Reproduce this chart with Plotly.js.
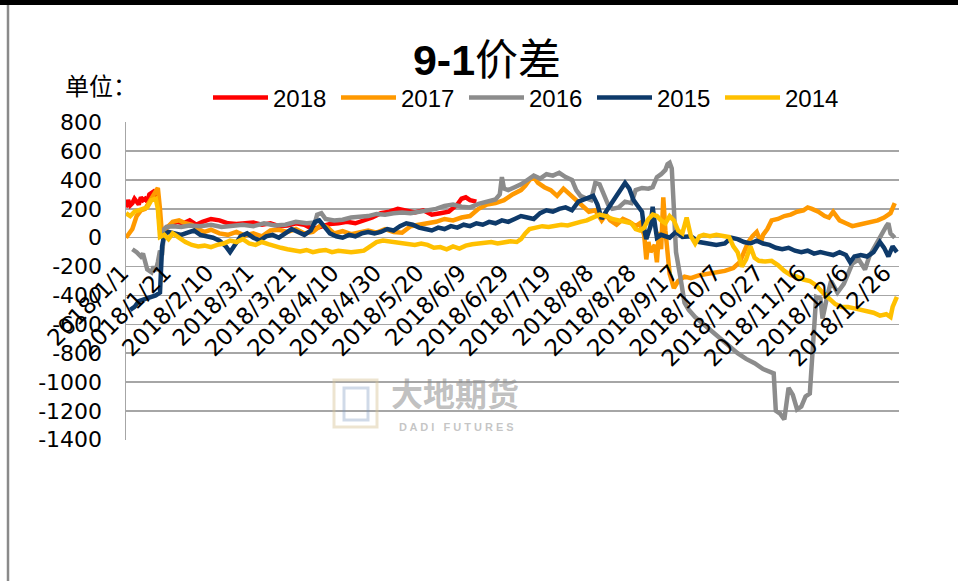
<!DOCTYPE html>
<html>
<head>
<meta charset="utf-8">
<script src="https://cdn.plot.ly/plotly-3.0.1.min.js"></script>
<style>html,body{margin:0;padding:0;background:#fff;}#chart{width:958px;height:581px;}</style>
</head>
<body>
<div id="chart"></div>
<script>
// ---- data (x = day offset from 2018-01-01, y = spread) ----
const seriesNames = ['2018', '2017', '2016', '2015', '2014'];
const seriesColors = ['#FF0000', '#FF9900', '#8C8C8C', '#0E3A6A', '#FFC000'];

const days2018 = [0,1,2,3,4,5,6,7,8,9,10,11,12,13,14,15,16,17,19,21,24,27,30,33,36,40,44,48,52,56,60,64,68,72,76,80,84,88,92,96,100,104,108,112,116,120,124,128,132,136,140,144,148,152,156,158,160,162,165];
const vals2018 = [210,260,225,240,270,250,230,280,260,270,250,300,310,320,300,250,60,40,70,90,110,100,120,90,110,130,120,100,95,100,105,90,100,80,85,100,90,60,80,95,100,110,100,120,140,170,180,200,190,175,190,160,170,180,230,270,280,260,250];

const days2017 = [0,1,3,5,7,9,11,13,14,15,16,17,18,20,22,25,28,31,34,37,40,44,48,52,56,60,64,68,72,76,80,84,88,92,95,98,102,106,110,114,118,122,126,130,134,138,142,146,150,154,158,162,166,170,174,178,182,186,188,190,192,194,197,200,203,206,209,212,215,218,221,224,226,228,231,234,237,240,242,244,245,246,247,249,250,251,252,253,254,255,256,258,260,263,266,270,274,278,282,286,289,291,293,295,297,299,300,302,304,307,310,313,316,319,321,323,326,329,331,333,336,339,342,345,348,351,354,357,360,362];
const vals2017 = [0,20,60,150,190,200,250,310,330,345,200,10,50,80,110,120,100,90,60,40,55,30,20,40,15,30,10,50,55,40,60,30,40,90,70,30,45,25,40,50,35,60,40,35,80,90,100,110,130,120,140,150,200,230,240,260,300,330,360,400,420,380,350,330,290,340,300,260,220,180,190,120,160,120,90,130,110,80,100,20,-150,-30,-100,-50,-170,40,-80,280,50,-150,-250,-350,-300,-270,-280,-260,-250,-240,-230,-210,-170,-100,-30,10,40,-30,20,60,120,130,150,160,180,190,210,200,180,150,140,180,120,100,80,90,100,110,120,140,170,240];

const days2016 = [3,5,7,8,10,12,13,14,15,16,17,18,19,22,26,30,35,40,45,50,55,60,65,70,75,80,85,89,90,92,94,98,102,106,110,114,118,122,126,130,134,138,142,146,150,154,158,162,166,170,174,176,177,178,180,183,186,189,192,195,198,201,204,207,210,212,214,217,219,221,223,225,227,229,232,235,238,240,243,246,248,250,252,254,255,256,257,258,259,261,263,265,268,272,276,280,284,288,292,296,300,303,305,306,308,310,312,314,316,318,320,322,324,325,327,328,330,332,335,338,340,342,345,348,350,353,356,358,359,360,362];
const vals2016 = [-80,-100,-130,-110,-220,-240,-200,-230,-170,-90,-120,60,75,80,75,85,80,90,75,85,90,80,100,85,90,110,100,105,160,170,130,120,125,140,145,150,165,160,170,175,170,180,185,200,220,230,215,210,235,250,265,300,420,340,330,350,370,400,430,410,440,430,450,420,400,330,290,270,260,380,370,300,230,200,210,250,240,330,345,340,350,420,440,470,510,520,480,200,-100,-270,-450,-500,-550,-600,-650,-690,-750,-800,-840,-870,-910,-930,-940,-1200,-1220,-1260,-1040,-1090,-1190,-1170,-1100,-1080,-700,-410,-420,-560,-420,-300,-380,-320,-250,-180,-150,-220,-130,-50,40,80,100,30,0];

const days2015 = [2,4,6,8,10,12,14,16,17,18,20,23,26,29,32,35,38,41,44,47,49,51,54,57,60,63,66,69,72,75,78,81,84,87,89,91,93,96,99,102,105,108,111,114,117,120,123,126,129,132,135,138,141,144,147,150,153,156,159,162,165,168,171,174,177,180,183,186,189,192,195,198,201,204,207,210,213,217,220,222,224,226,229,232,235,237,239,241,243,244,245,247,248,249,250,252,256,259,262,266,270,274,278,282,285,288,291,294,297,300,303,306,309,312,315,318,321,324,327,330,333,336,339,341,343,346,349,352,355,357,359,361,363];
const vals2015 = [-500,-480,-440,-430,-420,-410,-400,-380,-60,20,40,30,20,35,50,20,10,0,-20,-60,-100,-60,10,30,0,-20,10,20,0,30,60,40,20,50,110,120,80,30,10,0,20,10,30,40,30,40,60,50,80,100,90,70,60,50,70,60,80,70,90,80,100,90,110,100,120,110,130,150,140,130,170,190,180,200,210,190,250,270,290,230,130,180,250,320,380,340,260,220,180,60,-10,80,215,100,0,20,0,40,5,10,-30,-40,-50,-40,0,-10,-30,-40,-20,-40,-50,-70,-80,-70,-90,-100,-90,-110,-100,-110,-120,-100,-120,-170,-130,-120,-130,-100,-30,-70,-130,-60,-100];

const days2014 = [0,2,4,6,8,10,12,14,15,16,18,20,22,25,28,31,34,37,40,43,46,49,52,55,58,61,64,67,70,73,76,79,82,85,88,91,94,97,100,103,106,109,112,115,118,121,124,127,130,133,136,139,142,145,148,151,154,157,160,163,166,169,172,175,178,181,184,186,188,190,193,196,199,202,205,208,211,214,217,220,223,226,229,232,235,238,240,242,244,246,248,250,252,254,256,258,260,262,264,266,268,270,272,275,278,281,284,286,288,290,292,294,296,298,301,304,307,310,313,316,319,322,325,328,331,334,337,340,343,346,349,352,355,358,360,361,363];
const vals2014 = [170,150,180,190,200,210,260,270,200,5,20,-10,30,0,-30,-50,-60,-55,-65,-50,-40,-20,-30,-10,-40,-50,-30,-45,-60,-70,-80,-90,-95,-85,-100,-90,-85,-100,-90,-95,-100,-95,-90,-60,-30,-20,-25,-30,-40,-45,-50,-40,-50,-70,-65,-80,-60,-75,-55,-45,-40,-35,-30,-40,-35,-25,-30,-10,30,60,70,80,75,85,90,85,100,110,120,140,160,150,130,120,110,100,60,50,70,130,160,150,120,100,150,120,50,30,140,10,-40,10,20,10,20,10,5,-60,-100,-200,-150,-60,-140,-160,-165,-160,-190,-230,-260,-270,-290,-300,-330,-380,-420,-460,-480,-480,-490,-500,-510,-520,-540,-530,-550,-480,-410];

const tickLabels = ['2018/1/1','2018/1/21','2018/2/10','2018/3/1','2018/3/21','2018/4/10','2018/4/30','2018/5/20','2018/6/9','2018/6/29','2018/7/19','2018/8/8','2018/8/28','2018/9/17','2018/10/7','2018/10/27','2018/11/16','2018/12/6','2018/12/26'];
const yTickVals = [800,600,400,200,0,-200,-400,-600,-800,-1000,-1200,-1400];
const yTickText = ['800','600','400','200','0','-200','-400','-600','-800','-1000','-1200','-1400'];

// ---- build ----
function dayToDate(d) {
  const t = new Date(Date.UTC(2018, 0, 1 + d));
  return t.toISOString().slice(0, 10);
}
function labelToDate(s) {
  const p = s.split('/');
  return p[0] + '-' + String(p[1]).padStart(2, '0') + '-' + String(p[2]).padStart(2, '0');
}
const allDays = [days2018, days2017, days2016, days2015, days2014];
const allVals = [vals2018, vals2017, vals2016, vals2015, vals2014];

const traces = seriesNames.map((n, i) => ({
  type: 'scatter', mode: 'lines', name: n,
  x: allDays[i].map(dayToDate), y: allVals[i],
  line: {color: seriesColors[i], width: 4.5},
  hoverinfo: 'x+y+name'
}));

const yMin = -1402, yMax = 802;
const W = 958, H = 581, L = 126, R = 59, T = 122, B = 141;
const pw = W - L - R, ph = H - T - B;
const px = v => (v - L) / pw;
const py = v => (H - B - v) / ph;

const layout = {
  width: W, height: H,
  margin: {l: L, r: R, t: T, b: B, pad: 0},
  paper_bgcolor: '#ffffff', plot_bgcolor: '#ffffff',
  font: {family: '"DejaVu Sans", sans-serif', color: '#000'},
  title: {
    text: '<b>9-1</b>价差',
    font: {family: '"Liberation Sans", "Noto Sans CJK SC", sans-serif', size: 43, color: '#000'},
    x: 487 / W, xanchor: 'center', y: 1 - 60 / H, yanchor: 'middle'
  },
  showlegend: true,
  legend: {
    orientation: 'h', x: px(208), xanchor: 'left', y: py(98), yanchor: 'middle',
    font: {family: '"Liberation Sans", sans-serif', size: 24, color: '#000'},
    bgcolor: 'rgba(0,0,0,0)', entrywidth: 58, entrywidthmode: 'pixels', itemwidth: 55,
    tracegroupgap: 0
  },
  xaxis: {
    type: 'date', range: ['2018-01-01', '2018-12-31'],
    tickmode: 'array', tickvals: tickLabels.map(labelToDate), ticktext: tickLabels,
    tickangle: -45, tickfont: {family: '"DejaVu Sans", sans-serif', size: 23, color: '#000'},
    showgrid: false, zeroline: false, showline: false, ticks: '',
    ticklabelstandoff: 16, ticklabelshift: -4,
    anchor: 'free', position: (0 - yMin) / (yMax - yMin)
  },
  yaxis: {
    range: [yMin, yMax], tickmode: 'array', tickvals: yTickVals, ticktext: yTickText,
    tickfont: {family: '"DejaVu Sans", sans-serif', size: 22, color: '#000'},
    showgrid: true, gridcolor: '#A6A6A6', gridwidth: 1.5,
    zeroline: false, showline: true, linecolor: '#A6A6A6', linewidth: 1.5,
    ticks: '', ticklabelstandoff: 18
  },
  annotations: [
    {text: '单位：', xref: 'paper', yref: 'paper', x: px(63), y: py(84), xanchor: 'left', yanchor: 'middle',
     showarrow: false, font: {family: '"Noto Sans CJK SC", sans-serif', size: 24, color: '#000'}},
    {text: '<b>大地期货</b>', xref: 'paper', yref: 'paper', x: px(455), y: py(392), xanchor: 'center', yanchor: 'middle',
     showarrow: false, font: {family: '"Noto Sans CJK SC", sans-serif', size: 32, color: 'rgba(140,140,140,0.55)'}},
    {text: '<b>D A D I   F U T U R E S</b>', xref: 'paper', yref: 'paper', x: px(456), y: py(427), xanchor: 'center', yanchor: 'middle',
     showarrow: false, font: {family: '"Liberation Sans", sans-serif', size: 11, color: 'rgba(140,140,140,0.5)'}}
  ],
  shapes: [
    {type: 'rect', xref: 'paper', yref: 'paper', x0: px(-5), x1: px(965), y0: py(5), y1: py(-5),
     fillcolor: '#000', line: {width: 0}},
    {type: 'line', xref: 'paper', yref: 'paper', x0: px(8), x1: px(8), y0: py(5), y1: py(590),
     line: {color: '#8A8A8A', width: 2.5}},
    {type: 'rect', xref: 'paper', yref: 'paper', x0: px(334), x1: px(377), y0: py(427), y1: py(380),
     line: {color: 'rgba(215,195,150,0.45)', width: 3}, fillcolor: 'rgba(0,0,0,0)'},
    {type: 'path', xref: 'paper', yref: 'paper',
     path: 'M ' + px(344) + ' ' + py(388) + ' L ' + px(368) + ' ' + py(388) + ' L ' + px(368) + ' ' + py(420) + ' L ' + px(344) + ' ' + py(420) + ' Z',
     line: {color: 'rgba(120,150,190,0.35)', width: 3}, fillcolor: 'rgba(0,0,0,0)'}
  ]
};

Plotly.newPlot('chart', traces, layout, {displayModeBar: false, staticPlot: true});
</script>
</body>
</html>
